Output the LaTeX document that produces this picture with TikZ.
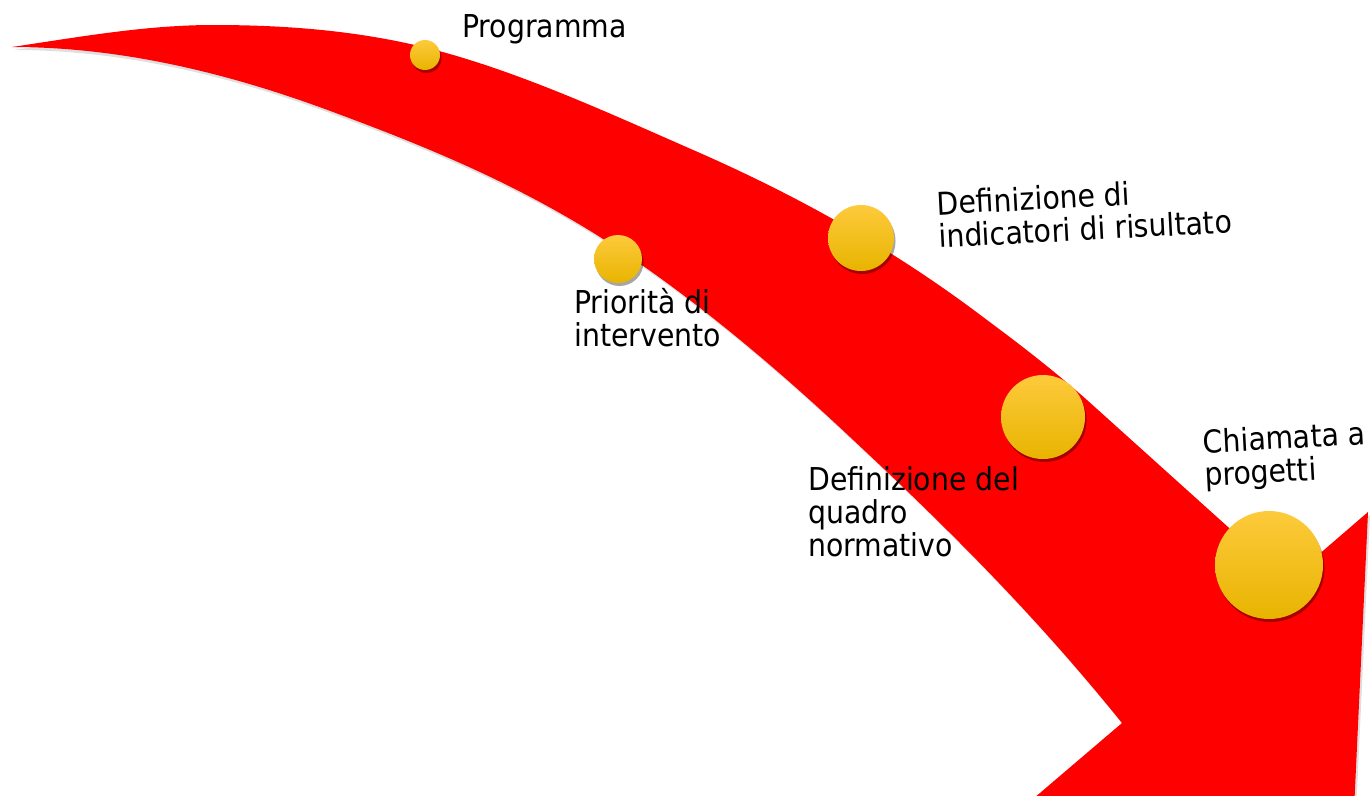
\documentclass[tikz,border=0pt]{standalone}
\usepackage{fontspec}
\setmainfont{DejaVu Sans Condensed}
\usetikzlibrary{shadows}
\definecolor{arrowred}{HTML}{FF0000}
\definecolor{dottop}{HTML}{FDCA3C}
\definecolor{dotbot}{HTML}{E8B400}
\tikzset{
  dot/.style={circle, inner sep=0pt, top color=dottop, bottom color=dotbot, draw=none,
    drop shadow={shadow xshift=1.5pt, shadow yshift=-3pt, opacity=0.35, fill=black}},
  lbl/.style={inner sep=0pt, align=left, anchor=base west,
    font=\fontsize{31.5}{33}\selectfont}
}
\begin{document}
\begin{tikzpicture}[x=1pt, y=-1pt]
\useasboundingbox (0,0) rectangle (1372,795);
\begin{scope}
\clip (0,0) rectangle (1372,795);
\fill[arrowred, drop shadow={shadow xshift=2pt, shadow yshift=-3pt, opacity=0.25}]
  (12,47) .. controls (79,37) and (146,25) .. (213,25)
  .. controls (295,25) and (378,32) .. (460,57)
  .. controls (540,81) and (620,118) .. (700,153)
  .. controls (794,194.5) and (889,246) .. (983,317)
  .. controls (1018,343) and (1052,369) .. (1087,400)
  -- (1288,581) -- (1368,512) -- (1354,810) -- (1020,810) -- (1122,723)
  .. controls (1031,610) and (941,522) .. (850,437)
  .. controls (767,359) and (683,290) .. (600,237)
  .. controls (511,181) and (422,145) .. (333,112)
  .. controls (226,72) and (119,47) .. (12,47)
  -- cycle;
\end{scope}
\node[dot, minimum size=30] (c1) at (425,55) {};
\node[dot, minimum size=48] (c2) at (618,259) {};
\node[dot, minimum size=66] (c3) at (861,238) {};
\node[dot, minimum size=84] (c4) at (1043,417) {};
\node[dot, minimum size=108] (c5) at (1269,565) {};
\node[lbl] (t1) at (462,37) {Programma};
\node[lbl] (t2) at (574,346) {Priorità di\\intervento};
\node[lbl, rotate=3] (t3) at (939,248) {Definizione di\\indicatori di risultato};
\node[lbl] (t4) at (808,556) {Definizione del\\quadro\\normativo};
\node[lbl, rotate=3] (t5) at (1205,486) {Chiamata a\\progetti};
\end{tikzpicture}
\end{document}
